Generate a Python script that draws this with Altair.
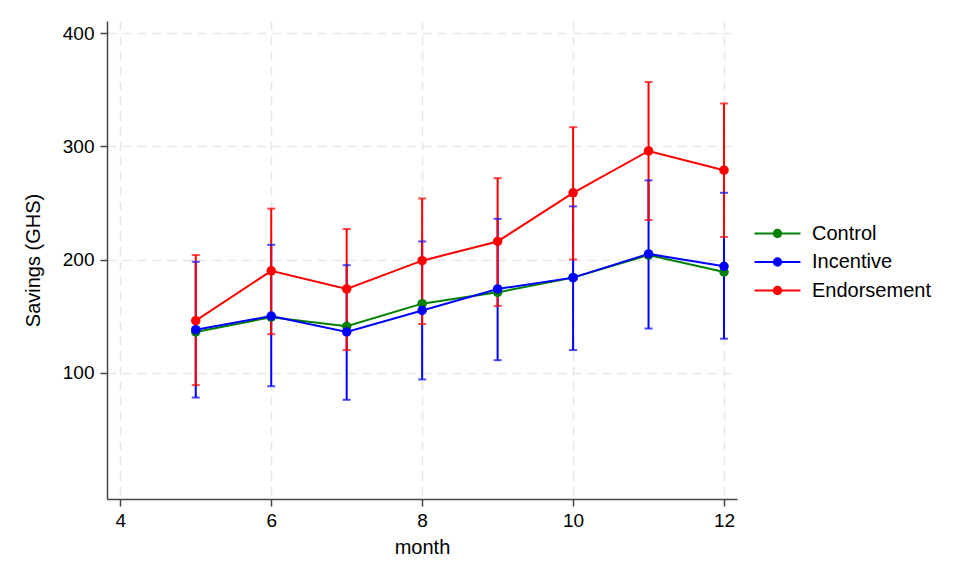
import altair as alt
import pandas as pd

months = [5, 6, 7, 8, 9, 10, 11, 12]
series_names = ["Control", "Incentive", "Endorsement"]
colors = ["#008000", "#0000ff", "#ff0000"]

control_mean = [136, 149, 141, 161, 171, 184, 204, 189]
incentive_mean = [138, 150, 136, 155, 174, 184, 205, 194]
incentive_lo = [78, 88, 76, 94, 111, 120, 139, 130]
incentive_hi = [198, 213, 195, 216, 236, 247, 270, 259]
endorse_mean = [146, 190, 174, 199, 216, 259, 296, 279]
endorse_lo = [89, 134, 120, 143, 159, 200, 235, 220]
endorse_hi = [204, 245, 227, 254, 272, 317, 357, 338]

x_ticks = [4, 6, 8, 10, 12]
y_ticks = [100, 200, 300, 400]

rows = []
for i, m in enumerate(months):
    rows.append({"month": m, "group": "Control", "mean": control_mean[i], "lo": None, "hi": None})
for i, m in enumerate(months):
    rows.append({"month": m, "group": "Incentive", "mean": incentive_mean[i], "lo": incentive_lo[i], "hi": incentive_hi[i]})
for i, m in enumerate(months):
    rows.append({"month": m, "group": "Endorsement", "mean": endorse_mean[i], "lo": endorse_lo[i], "hi": endorse_hi[i]})
df = pd.DataFrame(rows)
df["order"] = df["group"].map({n: k for k, n in enumerate(series_names)})

FONT = "Liberation Sans"

xenc = alt.X("month:Q", title="month",
             scale=alt.Scale(domain=[3.824, 12.172], nice=False, zero=False),
             axis=alt.Axis(values=x_ticks, format="d", grid=True, gridDash=[9, 6],
                           gridColor="#e6e6e6", gridWidth=1.5, domainColor="#444444",
                           domainWidth=1.5, tickColor="#444444", tickWidth=1.5, tickSize=7,
                           labelPadding=5, labelFontSize=19, labelFont=FONT, labelColor="#000000",
                           titleFont=FONT, titleFontSize=20, titleFontWeight="normal",
                           titleColor="#000000", titlePadding=7, labelFlush=False))
yscale = alt.Scale(domain=[-11.7, 410.9], nice=False, zero=False)
yaxis = alt.Axis(values=y_ticks, grid=True, gridDash=[9, 6], gridColor="#e6e6e6", gridWidth=1.5,
                 domainColor="#444444", domainWidth=1.5, tickColor="#444444", tickWidth=1.5,
                 tickSize=7, labelPadding=6, labelFontSize=19, labelFont=FONT,
                 labelColor="#000000", titleFont=FONT, titleFontSize=20,
                 titleFontWeight="normal", titleColor="#000000", titlePadding=19)

legend_path = "M-2.5,0H2.5M-0.4,0A0.4,0.4,0,1,1,0.4,0A0.4,0.4,0,1,1,-0.4,0Z"
color = alt.Color("group:N", scale=alt.Scale(domain=series_names, range=colors),
                  legend=alt.Legend(title=None, orient="none", legendX=660, legendY=202,
                                    symbolType=legend_path, symbolSize=338, symbolOpacity=1,
                                    symbolStrokeWidth=2, labelFont=FONT, labelFontSize=20,
                                    labelColor="#000000", labelOffset=24, rowPadding=7.5))

base = alt.Chart(df)
err = base.transform_filter("datum.lo != null").mark_rule(strokeWidth=2).encode(
    x=xenc, y=alt.Y("lo:Q", scale=yscale, axis=yaxis, title="Savings (GHS)"), y2="hi:Q",
    color=color, order="order:Q")
cap_lo = base.transform_filter("datum.lo != null").mark_tick(orient="horizontal", size=8, thickness=2).encode(
    x="month:Q", y="lo:Q", color=color)
cap_hi = base.transform_filter("datum.lo != null").mark_tick(orient="horizontal", size=8, thickness=2).encode(
    x="month:Q", y="hi:Q", color=color)
line = base.mark_line(strokeWidth=2).encode(x="month:Q", y="mean:Q", color=color, order="month:Q")
pts = base.mark_point(filled=True, size=90, opacity=1).encode(x="month:Q", y="mean:Q", color=color)

chart = alt.layer(err, cap_lo, cap_hi, line, pts).properties(
    width=630, height=478, autosize="none",
    padding={"left": 107, "top": 21, "right": 238, "bottom": 86},
    background="white"
).configure_view(stroke=None)

chart.save("out.html", embed_options={"renderer": "svg", "actions": False})
